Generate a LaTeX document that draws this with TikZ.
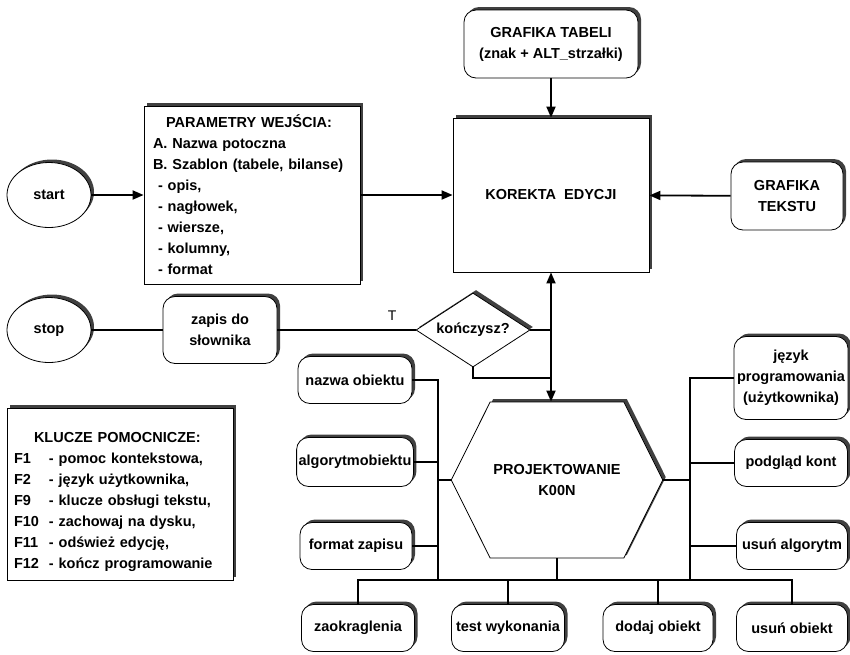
\documentclass[tikz,border=0pt]{standalone}
\usepackage{fontspec}
\setmainfont{Liberation Sans}
\usetikzlibrary{arrows.meta,positioning,shapes.geometric,shapes.symbols,shadows}

\newcommand{\fkey}[2]{\makebox[35pt][l]{#1}- #2}
\tikzset{
  shade box/.style={draw,fill=white,line width=0.8pt,drop shadow={shadow xshift=3pt,shadow yshift=3pt,fill=black!75,opacity=1}},
  box/.style={shade box,rectangle,inner sep=2pt},
  rbox/.style={shade box,rectangle,rounded corners=12pt,inner sep=2pt,align=center},
  oval/.style={shade box,ellipse,minimum width=84pt,minimum height=65pt},
  link/.style={line width=1.8pt},
  arr/.style={link,-{Triangle[length=11pt,width=9pt]}},
}

\begin{document}
\begin{tikzpicture}[x=1pt,y=-1pt,font=\fontsize{14.5}{21}\selectfont\bfseries]
  \useasboundingbox (0,0) rectangle (850,654);
  \node[oval] (start) at (49,195) {start};
  \node[box,text width=198pt,inner sep=9pt,minimum height=178pt,align=left] (param) at (252,195)
    {\hspace*{13pt}PARAMETRY WEJŚCIA:\\A. Nazwa potoczna\\B. Szablon (tabele, bilanse)\\
     \hspace*{5pt}- opis,\\ \hspace*{5pt}- nagłowek,\\ \hspace*{5pt}- wiersze,\\
     \hspace*{5pt}- kolumny,\\ \hspace*{5pt}- format};
  \node[box,minimum width=196pt,minimum height=154pt] (kor) at (551,195) {KOREKTA~~EDYCJI};
  \node[rbox,minimum width=174pt,minimum height=68pt] (grtab) at (551,44) {GRAFIKA TABELI\\(znak + ALT\_strzałki)};
  \node[rbox,minimum width=112pt,minimum height=68pt] (grtek) at (787,196) {GRAFIKA\\TEKSTU};
  \node[oval] (stop) at (49,330) {stop};
  \node[rbox,minimum width=114pt,minimum height=67pt] (zapis) at (220,330) {zapis do\\słownika};
  \node[shade box,diamond,aspect=1.54,inner sep=0pt,minimum width=114pt,minimum height=74pt] (kon) at (473,330) {kończysz?};
  \node[shade box,signal,signal to=east and west,signal pointer angle=127,minimum width=189pt,
    minimum height=156pt,align=center] (proj) at (557,480) {PROJEKTOWANIE\\K00N};
  \node[box,text width=212pt,inner sep=7pt,minimum height=172pt,align=left] (klucze) at (120,494)
    {\rule{0pt}{26pt}\hspace*{20pt}KLUCZE POMOCNICZE:\\\fkey{F1}{pomoc kontekstowa,}\\\fkey{F2}{język użytkownika,}\\
     \fkey{F9}{klucze obsługi tekstu,}\\\fkey{F10}{zachowaj na dysku,}\\
     \fkey{F11}{odśwież edycję,}\\\fkey{F12}{kończ programowanie}};
  \node[rbox,minimum width=114pt,minimum height=47pt] (nazwa) at (355,380) {nazwa obiektu};
  \node[rbox,minimum width=114pt,minimum height=49pt] (algo) at (355,462) {algorytmobiektu};
  \node[rbox,minimum width=112pt,minimum height=47pt] (format) at (356,546) {format zapisu};
  \node[rbox,minimum width=113pt,minimum height=47pt] (zaok) at (358,628) {zaokraglenia};
  \node[rbox,minimum width=113pt,minimum height=47pt] (test) at (508,628) {test wykonania};
  \node[rbox,minimum width=110pt,minimum height=47pt] (dodaj) at (658,628) {dodaj obiekt};
  \node[rbox,minimum width=111pt,minimum height=47pt] (usob) at (792,628) {usuń obiekt};
  \node[rbox,minimum width=114pt,minimum height=83pt] (jezyk) at (791,378) {język\\programowania\\(użytkownika)};
  \node[rbox,minimum width=113pt,minimum height=47pt] (podgl) at (791,463) {podgląd kont};
  \node[rbox,minimum width=111pt,minimum height=47pt] (usalg) at (792,546) {usuń algorytm};
  \coordinate (jn) at (551,378);
  \coordinate (lb) at (438,580);
  \coordinate (rb) at (690,580);
  \draw[arr] (start) -- (param);
  \draw[arr] (param) -- (kor);
  \draw[arr] (grtab) -- (kor);
  \draw[arr] (grtek) -- (kor);
  \draw[link] (stop) -- (zapis) -- node[pos=0.83,above=5pt,font=\fontsize{14}{14}\selectfont] {T} (kon);
  \draw[link] (kon.east) -- (kon.east -| kor.south);
  \draw[link] (kon.south) |- (jn);
  \draw[link,{Triangle[length=11pt,width=9pt]}-{Triangle[length=11pt,width=9pt]}] (kor.south) -- (kor.south |- proj.north);
  \draw[link] (nazwa.east) -| (lb);
  \draw[link] (algo.east) -- (algo.east -| lb);
  \draw[link] (format.east) -- (format.east -| lb);
  \draw[link] (proj.west) -- (proj.west -| lb);
  \draw[link] (zaok.north) |- (lb) -- (rb) -| (usob.north);
  \draw[link] (test.north) -- (test.north |- lb);
  \draw[link] (dodaj.north) -- (dodaj.north |- lb);
  \draw[link] (proj.south) -- (proj.south |- lb);
  \draw[link] (jezyk.west) -| (rb);
  \draw[link] (podgl.west) -- (podgl.west -| rb);
  \draw[link] (usalg.west) -- (usalg.west -| rb);
  \draw[link] (proj.east) -- (proj.east -| rb);
\end{tikzpicture}
\end{document}
